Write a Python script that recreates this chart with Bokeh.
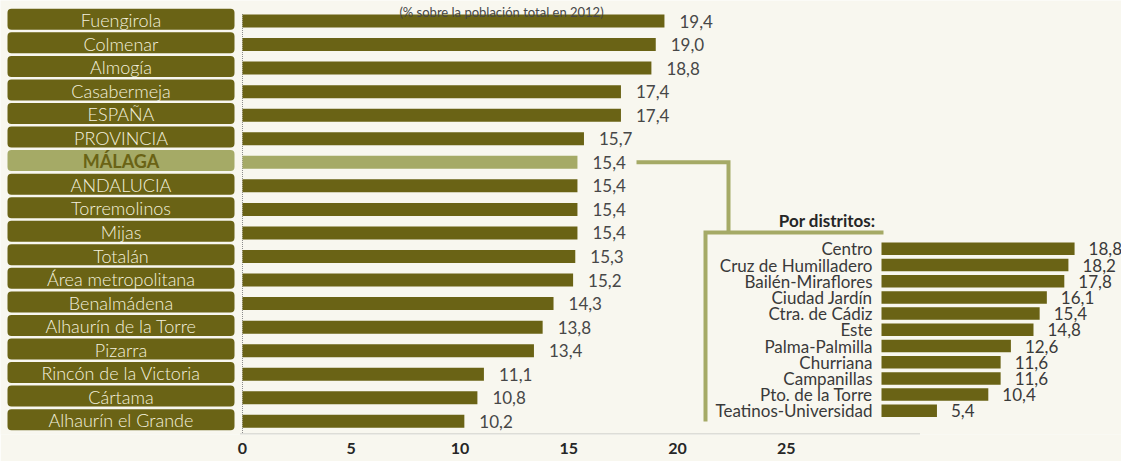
from bokeh.plotting import figure
from bokeh.models import Range1d, FixedTicker, ColumnDataSource
from bokeh.core.properties import value
from bokeh.embed import file_html
from bokeh.resources import INLINE

# ---------------- data ----------------
municipios = ["Fuengirola", "Colmenar", "Almogía", "Casabermeja", "ESPAÑA", "PROVINCIA",
              "MÁLAGA", "ANDALUCIA", "Torremolinos", "Mijas", "Totalán", "Área metropolitana",
              "Benalmádena", "Alhaurín de la Torre", "Pizarra", "Rincón de la Victoria",
              "Cártama", "Alhaurín el Grande"]
porcentajes = [19.4, 19.0, 18.8, 17.4, 17.4, 15.7, 15.4, 15.4, 15.4, 15.4, 15.3, 15.2,
               14.3, 13.8, 13.4, 11.1, 10.8, 10.2]
destacado = "MÁLAGA"

distritos = ["Centro", "Cruz de Humilladero", "Bailén-Miraflores", "Ciudad Jardín",
             "Ctra. de Cádiz", "Este", "Palma-Palmilla", "Churriana", "Campanillas",
             "Pto. de la Torre", "Teatinos-Universidad"]
porc_distritos = [18.8, 18.2, 17.8, 16.1, 15.4, 14.8, 12.6, 11.6, 11.6, 10.4, 5.4]

ticks = [0, 5, 10, 15, 20, 25]
subtitulo = "(% sobre la población total en 2012)"
titulo_inset = "Por distritos:"

# ---------------- style / layout ----------------
FONT = "Lato"
FONT_LIGHT = "Lato Light"
BG = "#f8f7ef"
BAR = "#6a6315"
HILITE = "#a5aa66"
BOX_TEXT = "#f4f1de"
VAL_TEXT = "#474747"
DARK = "#262626"

W, H = 1121, 461
FH = 434                 # frame height (px)
X0, SX = 242.0, 21.75    # main: canvas px of 0, px per unit
Y0, SY = 20.5, 23.55     # main: canvas px of first row centre, px per row
IX0, ISX = 881.0, 10.27  # inset
IY0, ISY = 248.3, 16.2

def fmt(v):
    return f"{v:.1f}".replace(".", ",")

p = figure(width=W, height=H, output_backend="svg", toolbar_location=None,
           x_range=Range1d(-X0 / SX, (W - X0) / SX),
           y_range=Range1d((FH - Y0) / SY, -Y0 / SY),
           x_axis_location="below", y_axis_location=None,
           min_border_left=0, min_border_right=0, min_border_top=0,
           min_border_bottom=H - FH)
p.extra_x_ranges = {"px": Range1d(0, W),
                    "ix": Range1d(-IX0 / ISX, (W - IX0) / ISX)}
p.extra_y_ranges = {"py": Range1d(FH, 0),
                    "iy": Range1d((FH - IY0) / ISY, -IY0 / ISY)}
p.background_fill_color = BG
p.border_fill_color = BG
p.outline_line_color = None
p.grid.visible = False

ax = p.xaxis[0]
ax.ticker = FixedTicker(ticks=ticks)
ax.axis_line_color = None
ax.major_tick_line_color = None
ax.minor_tick_line_color = None
ax.major_tick_out = 0
ax.major_tick_in = 0
ax.major_label_standoff = 8
ax.major_label_text_font = FONT
ax.major_label_text_font_style = "bold"
ax.major_label_text_font_size = "16px"
ax.major_label_text_color = DARK

rows = list(range(len(municipios)))
hl = [m == destacado for m in municipios]
src = ColumnDataSource(dict(
    y=rows,
    ybox=[r - 1.7 / SY for r in rows],
    v=porcentajes,
    name=municipios,
    lab=[fmt(v) for v in porcentajes],
    col=[HILITE if h else BAR for h in hl],
    tcol=[BAR if h else BOX_TEXT for h in hl],
    tfont=[FONT if h else FONT_LIGHT for h in hl],
    tstyle=["bold" if h else "normal" for h in hl],
))

# dotted reference lines
p.segment(x0=[X0, X0 - 2], y0=[Y0 - 7, FH - 0.5], x1=[X0, 920], y1=[FH - 0.5, FH - 0.5],
          x_range_name="px", y_range_name="py",
          line_color="#8c8c8c", line_width=1, line_dash="1 1")

# label boxes
p.hbar(y="ybox", left=7, right=234, height=21 / SY, source=src, x_range_name="px",
       fill_color="col", line_color=None, border_radius=4)
p.text(x=120.5, y="y", text="name", source=src, x_range_name="px", y_offset=-1,
       text_align="center", text_baseline="middle", text_font="tfont",
       text_font_size="18px", text_color="tcol", text_font_style="tstyle")

# main bars
p.hbar(y="y", left=0, right="v", height=13 / SY, source=src,
       fill_color="col", line_color=None)
p.text(x="v", y="y", text="lab", source=src, x_offset=15,
       text_align="left", text_baseline="middle", text_font=value(FONT),
       text_font_size="17px", text_color=VAL_TEXT)

# subtitle
p.text(x=[501], y=[11], text=[subtitulo], x_range_name="px", y_range_name="py",
       text_align="center", text_baseline="alphabetic", text_font=value(FONT),
       text_font_size="13px", text_color=VAL_TEXT)

# connector
mal = municipios.index(destacado)
my = Y0 + SY * mal
p.multi_line(xs=[[636, 728, 728], [883, 705, 705]],
             ys=[[my, my, 232], [232, 232, 421]],
             x_range_name="px", y_range_name="py",
             line_color=HILITE, line_width=4, line_join="miter", line_cap="butt")

# inset
irows = list(range(len(distritos)))
isrc = ColumnDataSource(dict(y=irows, v=porc_distritos, name=distritos,
                             lab=[fmt(v) for v in porc_distritos]))
p.hbar(y="y", left=0, right="v", height=12.5 / ISY, source=isrc,
       x_range_name="ix", y_range_name="iy", fill_color=BAR, line_color=None)
p.text(x=0, y="y", text="name", source=isrc, x_range_name="ix", y_range_name="iy",
       x_offset=-9, text_align="right", text_baseline="middle", text_font=value(FONT),
       text_font_size="17px", text_color="#3a3a3a")
p.text(x="v", y="y", text="lab", source=isrc, x_range_name="ix", y_range_name="iy",
       x_offset=14, text_align="left", text_baseline="middle", text_font=value(FONT),
       text_font_size="17px", text_color="#3a3a3a")
p.text(x=[0], y=[-1.75], text=[titulo_inset], x_range_name="ix", y_range_name="iy",
       x_offset=-6, text_align="right", text_baseline="middle", text_font=value(FONT),
       text_font_size="17px", text_font_style="bold", text_color=DARK)

open("out.html", "w").write(file_html(p, INLINE))
